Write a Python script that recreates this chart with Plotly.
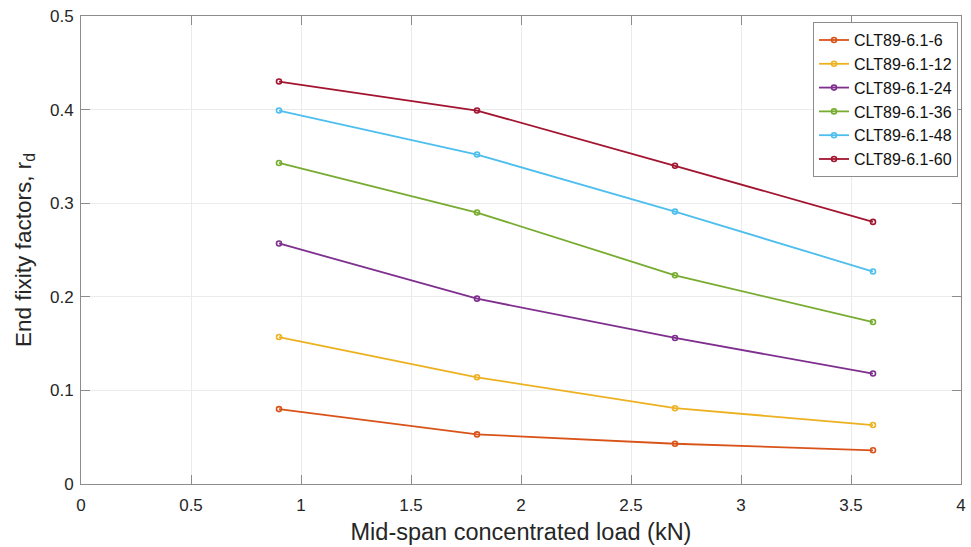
import plotly.graph_objects as go

# Mid-span load levels (kN)
loads = [0.9, 1.8, 2.7, 3.6]

# End fixity factor r_d for each specimen series
series_names = ["CLT89-6.1-6", "CLT89-6.1-12", "CLT89-6.1-24",
                "CLT89-6.1-36", "CLT89-6.1-48", "CLT89-6.1-60"]
rd_6 = [0.080, 0.053, 0.043, 0.036]
rd_12 = [0.157, 0.114, 0.081, 0.063]
rd_24 = [0.257, 0.198, 0.156, 0.118]
rd_36 = [0.343, 0.290, 0.223, 0.173]
rd_48 = [0.399, 0.352, 0.291, 0.227]
rd_60 = [0.430, 0.399, 0.340, 0.280]
series_values = [rd_6, rd_12, rd_24, rd_36, rd_48, rd_60]

colors = ["#D95319", "#EDB120", "#7E2F8E", "#77AC30", "#4DBEEE", "#A2142F"]

x_ticks = [0, 0.5, 1, 1.5, 2, 2.5, 3, 3.5, 4]
x_tick_labels = ["0", "0.5", "1", "1.5", "2", "2.5", "3", "3.5", "4"]
y_ticks = [0, 0.1, 0.2, 0.3, 0.4, 0.5]
y_tick_labels = ["0", "0.1", "0.2", "0.3", "0.4", "0.5"]

fig = go.Figure()
for name, vals, col in zip(series_names, series_values, colors):
    fig.add_trace(go.Scatter(
        x=loads, y=vals, name=name, mode="lines+markers",
        line=dict(color=col, width=1.8),
        marker=dict(symbol="circle-open", size=5, color=col, line=dict(width=1.6)),
    ))

axis_common = dict(
    showline=True, linecolor="#8c8c8c", linewidth=1, mirror="ticks",
    ticks="inside", ticklen=9, tickcolor="#8c8c8c", tickwidth=1,
    showgrid=True, gridcolor="#ebebeb", gridwidth=1,
    zeroline=False,
    tickfont=dict(family="Liberation Sans, Arial, sans-serif", size=17, color="#262626"),
)

fig.update_layout(
    width=971, height=547,
    margin=dict(l=81, r=5, t=16, b=63),
    paper_bgcolor="white", plot_bgcolor="white",
    font=dict(family="Liberation Sans, Arial, sans-serif", color="#262626"),
    xaxis=dict(
        range=[0, 4], tickvals=x_ticks, ticktext=x_tick_labels,
        ticklabelstandoff=6,
        title=dict(text="Mid-span concentrated load (kN)",
                   font=dict(size=23.5, color="#262626"), standoff=9),
        **axis_common,
    ),
    yaxis=dict(
        range=[0, 0.5], tickvals=y_ticks, ticktext=y_tick_labels,
        ticklabelstandoff=3,
        title=dict(text="End fixity factors, r<sub>d</sub>",
                   font=dict(size=22.5, color="#262626"), standoff=12),
        **axis_common,
    ),
    legend=dict(
        x=0.9966, y=0.987, xanchor="right", yanchor="top",
        bgcolor="white", bordercolor="#8c8c8c", borderwidth=1,
        font=dict(size=16, color="#111111"),
        tracegroupgap=0, itemwidth=30,
    ),
    showlegend=True,
)

fig.write_html("out.html")
